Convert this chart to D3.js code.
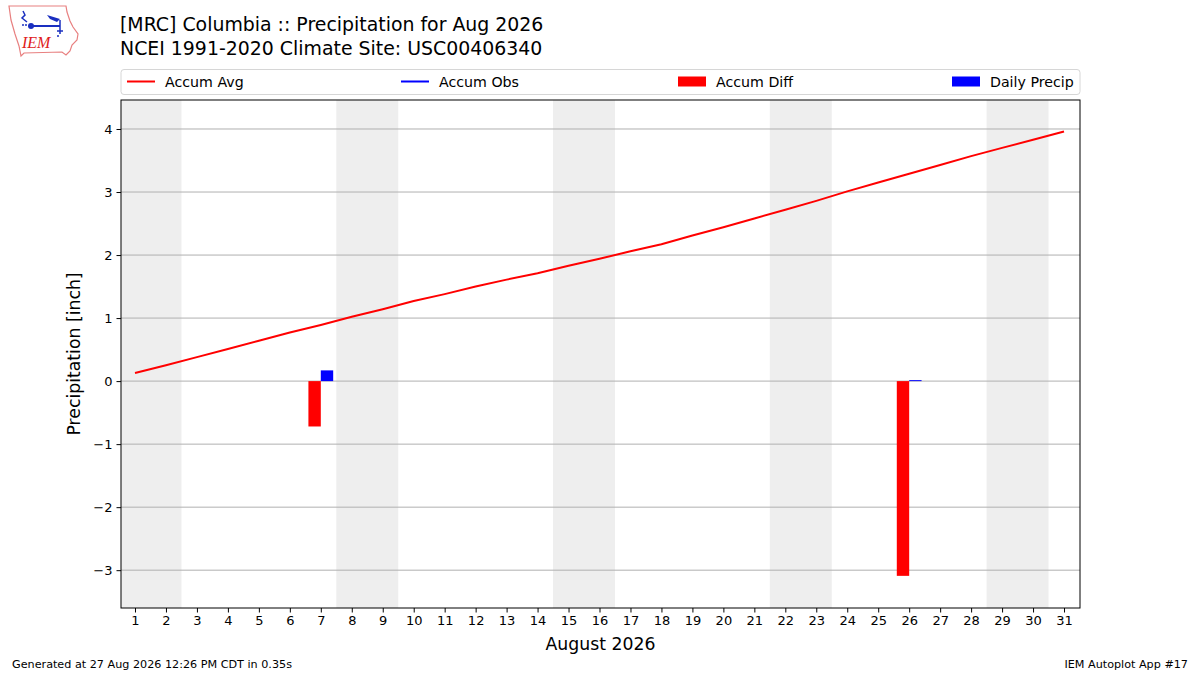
<!DOCTYPE html>
<html>
<head>
<meta charset="utf-8">
<script src="https://cdn.jsdelivr.net/npm/d3@7"></script>
<style>
  body { margin: 0; background: #fff; }
  svg { display: block; font-family: "DejaVu Sans", sans-serif; }
</style>
</head>
<body>
<svg id="chart" width="1200" height="675"></svg>
<script>
// days of the month
let days = d3.range(1, 32)
// climatology accumulated precip (inch)
let avgAccum = [0.13, 0.25, 0.38, 0.51, 0.64, 0.77, 0.89, 1.02, 1.14, 1.27,
                1.38, 1.50, 1.61, 1.71, 1.83, 1.94, 2.06, 2.17, 2.31, 2.44,
                2.58, 2.72, 2.86, 3.01, 3.15, 3.29, 3.43, 3.57, 3.70, 3.83, 3.96]
// accum diff bars (only where it rained)
let diffDays = [7, 26]
let diffVals = [-0.72, -3.09]
// daily precip bars
let precipDays = [7, 26]
let precipVals = [0.17, 0.015]
// weekends to shade
let weekendStarts = [1, 8, 15, 22, 29]
let yTicks = [-3, -2, -1, 0, 1, 2, 3, 4]
let legendItems = [
    {label: "Accum Avg", color: "red", kind: "line", x: 127},
    {label: "Accum Obs", color: "blue", kind: "line", x: 401},
    {label: "Accum Diff", color: "red", kind: "patch", x: 678},
    {label: "Daily Precip", color: "blue", kind: "patch", x: 952}
]

var svg = d3.select("#chart")
// plot box (don't call these top/left, window.top is read only)
var pL = 121, pR = 1080, pT = 100, pB = 608

var x = d3.scaleLinear().domain([0.548, 31.516]).range([pL, pR])
var y = d3.scaleLinear().domain([-3.6, 4.46]).range([pB, pT])

svg.append("defs").append("clipPath").attr("id", "plotclip")
    .append("rect")
    .attr("x", pL).attr("y", pT)
    .attr("width", pR - pL).attr("height", pB - pT)

var plot = svg.append("g").attr("clip-path", "url(#plotclip)")

// weekend shading
plot.selectAll("rect.wknd")
    .data(weekendStarts)
    .enter().append("rect")
    .attr("class", "wknd")
    .attr("x", d => x(d - 0.5))
    .attr("width", d => x(d + 1.5) - x(d - 0.5))
    .attr("y", pT)
    .attr("height", pB - pT)
    .attr("fill", "#eeeeee")

// horizontal grid
plot.selectAll("line.grid")
    .data(yTicks)
    .enter().append("line")
    .attr("class", "grid")
    .attr("x1", pL).attr("x2", pR)
    .attr("y1", d => y(d)).attr("y2", d => y(d))
    .attr("stroke", "#b0b0b0")
    .attr("stroke-width", 1)

// accum diff bars, left of the day
plot.selectAll("rect.diff")
    .data(diffDays)
    .enter().append("rect")
    .attr("class", "diff")
    .attr("x", d => x(d - 0.4))
    .attr("width", d => x(d) - x(d - 0.4))
    .attr("y", (d, i) => y(Math.max(0, diffVals[i])))
    .attr("height", (d, i) => Math.abs(y(diffVals[i]) - y(0)))
    .attr("fill", "red")

// daily precip bars, right of the day
plot.selectAll("rect.precip")
    .data(precipDays)
    .enter().append("rect")
    .attr("class", "precip")
    .attr("x", d => x(d))
    .attr("width", d => x(d + 0.4) - x(d))
    .attr("y", (d, i) => y(precipVals[i]))
    .attr("height", (d, i) => y(0) - y(precipVals[i]))
    .attr("fill", "blue")

var line = d3.line()
    .x((d, i) => x(days[i]))
    .y(d => y(d))

plot.append("path")
    .datum(avgAccum)
    .attr("fill", "none")
    .attr("stroke", "red")
    .attr("stroke-width", 2)
    .attr("d", line)

// axes
svg.append("g")
    .attr("transform", "translate(0," + pB + ")")
    .call(d3.axisBottom(x).tickValues(days).tickFormat(d3.format("d")).tickSizeOuter(0).tickSize(4.5).tickPadding(3))
svg.append("g")
    .attr("transform", "translate(" + pL + ",0)")
    .call(d3.axisLeft(y).tickValues(yTicks).tickFormat(d => d < 0 ? "\u2212" + Math.abs(d) : d).tickSizeOuter(0).tickSize(4.5).tickPadding(4))

svg.selectAll(".tick text")
    .attr("font-family", "DejaVu Sans")
    .attr("font-size", 13)
    .attr("fill", "#000")
svg.selectAll(".tick line").attr("stroke", "#000").attr("stroke-width", 1)
svg.selectAll(".domain").remove()

// spines
svg.append("rect")
    .attr("x", pL).attr("y", pT)
    .attr("width", pR - pL).attr("height", pB - pT)
    .attr("fill", "none")
    .attr("stroke", "#000")
    .attr("stroke-width", 1)

// axis labels
svg.append("text")
    .attr("x", (pL + pR) / 2).attr("y", 650)
    .attr("text-anchor", "middle")
    .attr("font-size", 17.3)
    .text("August 2026")
svg.append("text")
    .attr("transform", "translate(80," + (pT + pB) / 2 + ") rotate(-90)")
    .attr("text-anchor", "middle")
    .attr("font-size", 17.3)
    .text("Precipitation [inch]")

// titles
svg.append("text").attr("x", 120).attr("y", 31).attr("font-size", 18.9)
    .text("[MRC] Columbia :: Precipitation for Aug 2026")
svg.append("text").attr("x", 120).attr("y", 55).attr("font-size", 18.9)
    .text("NCEI 1991-2020 Climate Site: USC00406340")

// legend
var leg = svg.append("g")
leg.append("rect")
    .attr("x", pL).attr("y", 69.5)
    .attr("width", pR - pL).attr("height", 25)
    .attr("rx", 3)
    .attr("fill", "#fff")
    .attr("stroke", "#d6d6d6")
legendItems.forEach(function(it){
    if (it.kind == "line"){
        leg.append("line")
            .attr("x1", it.x).attr("x2", it.x + 28)
            .attr("y1", 81.5).attr("y2", 81.5)
            .attr("stroke", it.color).attr("stroke-width", 2)
    } else {
        leg.append("rect")
            .attr("x", it.x).attr("y", 76.5)
            .attr("width", 28).attr("height", 10)
            .attr("fill", it.color)
    }
    leg.append("text")
        .attr("x", it.x + 38).attr("y", 86.5)
        .attr("font-size", 14.2)
        .text(it.label)
})

// footer
svg.append("text").attr("x", 12).attr("y", 668).attr("font-size", 11.2)
    .text("Generated at 27 Aug 2026 12:26 PM CDT in 0.35s")
svg.append("text").attr("x", 1188).attr("y", 668).attr("font-size", 11.2)
    .attr("text-anchor", "end")
    .text("IEM Autoplot App #17")

// IEM logo, rough
var logo = svg.append("g")
logo.append("path")
    .attr("d", "M9,6 L66,6 L67,12 L70,21 L73,27 L78,34 L77,40 L72,45 L70,51 L66,55 L62,52 L24,53 L21,56 L19,46 L15,34 L11,20 Z")
    .attr("fill", "#fff")
    .attr("stroke", "#e88080")
    .attr("stroke-width", 1.2)
logo.append("line").attr("x1", 30).attr("x2", 60).attr("y1", 26).attr("y2", 26)
    .attr("stroke", "#1a2fc0").attr("stroke-width", 2)
logo.append("circle").attr("cx", 31).attr("cy", 26).attr("r", 3).attr("fill", "#1a2fc0")
logo.append("path").attr("d", "M23,11 L25,15 L22,18 L27,22").attr("fill", "none")
    .attr("stroke", "#1a2fc0").attr("stroke-width", 1.5)
logo.append("path").attr("d", "M23,25 m-1,0 a1,1 0 1,0 2,0 a1,1 0 1,0 -2,0 M26,25 m-1,0 a1,1 0 1,0 2,0 a1,1 0 1,0 -2,0").attr("fill", "#1a2fc0")
logo.append("path").attr("d", "M47,15 L60,19 L57,22 L50,19 Z").attr("fill", "#1a2fc0")
logo.append("path").attr("d", "M60,20 L60,34 M57,31 L63,31 M58,35 L58,37").attr("fill", "none")
    .attr("stroke", "#1a2fc0").attr("stroke-width", 1.5)
logo.append("text").attr("x", 22).attr("y", 48)
    .attr("font-family", "Liberation Serif").attr("font-style", "italic")
    .attr("font-size", 16).attr("fill", "#e02020")
    .text("IEM")
</script>
</body>
</html>
